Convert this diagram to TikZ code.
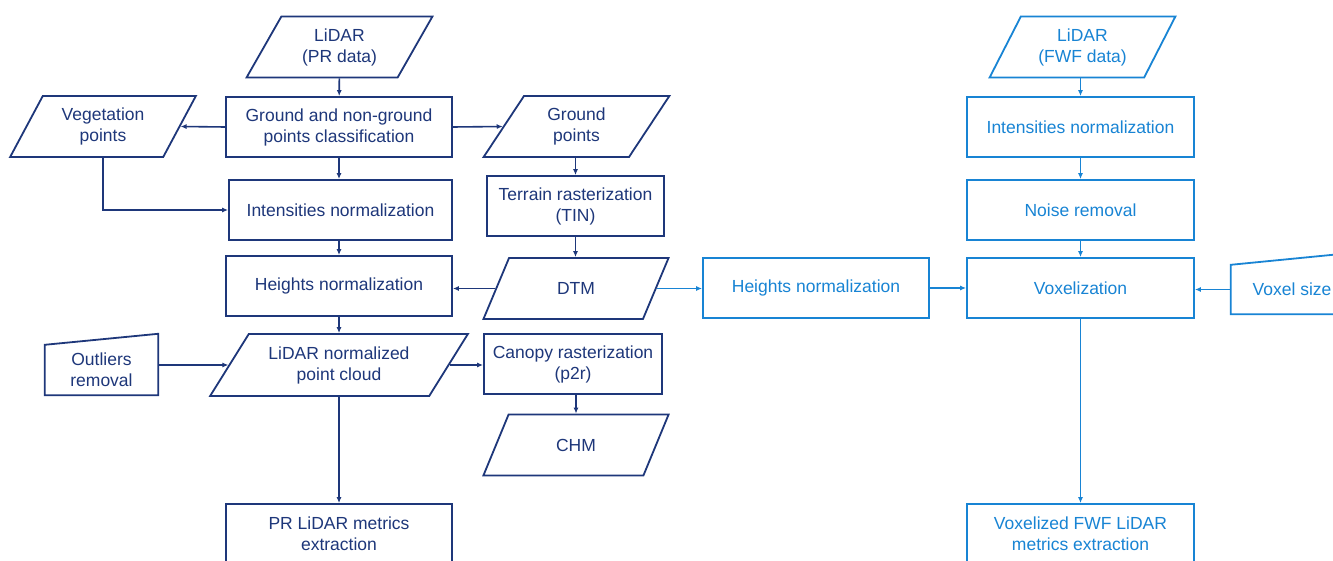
\documentclass[tikz,border=0pt]{standalone}
\usepackage{fontspec}
\setmainfont{Liberation Sans}
\usepackage{xcolor}
\definecolor{prblue}{RGB}{30,55,122}
\definecolor{fwfblue}{RGB}{24,132,212}
\usetikzlibrary{shapes.geometric}
\usetikzlibrary{arrows.meta}
\usetikzlibrary{calc}

\begin{document}
\begin{tikzpicture}[x=1pt,y=-1pt,
    every node/.style={font=\fontsize{17.5}{21}\selectfont, align=center, inner sep=0pt},
    procbox/.style={draw, line width=1.8pt, rectangle, minimum width=226pt, minimum height=60pt},
    databox/.style={draw, line width=1.8pt, trapezium, trapezium stretches=true,
        trapezium left angle=59, trapezium right angle=121, minimum width=186pt, minimum height=61pt},
    manualbox/.style={rectangle, minimum height=50pt},
    link/.style={line width=1.6pt, -{Latex[length=6pt,width=5pt]}},
    pr/.style={color=prblue, text=prblue},
    fwf/.style={color=fwfblue, text=fwfblue}]

  \useasboundingbox[fill=white] (0,0) rectangle (1333,561);

  % PR data branch
  \node[databox, pr] (prdata) at (339.5,47) {LiDAR\\(PR data)};
  \node[procbox, pr] (classif) at (339,127) {Ground and non-ground\\points classification};
  \node[databox, pr] (vegpts) at (103,126.5) {Vegetation\\points};
  \node[databox, pr] (grdpts) at (576.5,126.5) {Ground\\points};
  \node[procbox, pr, minimum width=223pt] (intnorm) at (340.5,210) {Intensities normalization};
  \node[procbox, pr, minimum width=177pt] (terrain) at (575.5,206) {Terrain rasterization\\(TIN)};
  \node[procbox, pr] (hnorm) at (339,286) {Heights normalization};
  \node[databox, pr] (dtm) at (576,288.5) {DTM};
  \node[databox, pr, minimum width=258pt, minimum height=62pt, trapezium left angle=51,
        trapezium right angle=129] (normcloud) at (339,365) {LiDAR normalized\\point cloud};
  \node[manualbox, pr, minimum width=113pt] (outliers) at (101.5,370) {Outliers\\removal};
  \node[procbox, pr, minimum width=178pt] (canopy) at (573,364) {Canopy rasterization\\(p2r)};
  \node[databox, pr] (chm) at (576,445) {CHM};
  \node[procbox, pr] (prmetrics) at (339,534) {PR LiDAR metrics\\extraction};

  % manual input outline
  \draw[prblue, line width=1.8pt] (outliers.south west) -- (outliers.south east)
      -- ([yshift=11pt]outliers.north east) -- (outliers.north west) -- cycle;

  \draw[link, prblue] (prdata) -- (classif);
  \draw[link, prblue] (classif.west) -- (vegpts.east);
  \draw[link, prblue] (classif.east) -- (grdpts.west);
  \draw[link, prblue] (vegpts.south) |- (intnorm.west);
  \draw[link, prblue] (classif.south) -- (classif.south |- intnorm.north);
  \draw[link, prblue] (intnorm.south -| hnorm.north) -- (hnorm.north);
  \draw[link, prblue] (grdpts.south -| terrain.north) -- (terrain.north);
  \draw[link, prblue] (terrain.south) -- (terrain.south |- dtm.north);
  \draw[link, prblue] (dtm.west) -- (dtm.west -| hnorm.east);
  \draw[link, prblue] (hnorm.south) -- (normcloud.north);
  \draw[link, prblue] (normcloud.west -| outliers.east) -- (normcloud.west);
  \draw[link, prblue] (normcloud.east) -- (normcloud.east -| canopy.west);
  \draw[link, prblue] (canopy.south -| chm.north) -- (chm.north);
  \draw[link, prblue] (normcloud.south) -- (prmetrics.north);

  % FWF data branch
  \node[procbox, fwf] (hnormfwf) at (816,288) {Heights normalization};
  \node[databox, fwf] (fwfdata) at (1082.5,47) {LiDAR\\(FWF data)};
  \node[procbox, fwf, minimum width=227pt] (intfwf) at (1080.5,127) {Intensities normalization};
  \node[procbox, fwf, minimum width=227pt] (noise) at (1080.5,210) {Noise removal};
  \node[procbox, fwf, minimum width=227pt] (voxel) at (1080.5,288) {Voxelization};
  \node[manualbox, fwf, minimum width=122pt, minimum height=49pt] (voxsize) at (1292,289.5) {Voxel size};
  \node[procbox, fwf, minimum width=227pt] (fwfmetrics) at (1080.5,534) {Voxelized FWF LiDAR\\metrics extraction};

  \draw[fwfblue, line width=1.8pt] (voxsize.south west) -- (voxsize.south east)
      -- ([yshift=12pt]voxsize.north east) -- (voxsize.north west) -- cycle;

  \draw[link, fwfblue] (dtm.east) -- (dtm.east -| hnormfwf.west);
  \draw[link, fwfblue] (hnormfwf.east) -- (voxel.west);
  \draw[link, fwfblue] (fwfdata.south -| intfwf.north) -- (intfwf.north);
  \draw[link, fwfblue] (intfwf) -- (noise);
  \draw[link, fwfblue] (noise) -- (voxel);
  \draw[link, fwfblue] (voxsize.west) -- (voxsize.west -| voxel.east);
  \draw[link, fwfblue] (voxel) -- (fwfmetrics);

\end{tikzpicture}
\end{document}
